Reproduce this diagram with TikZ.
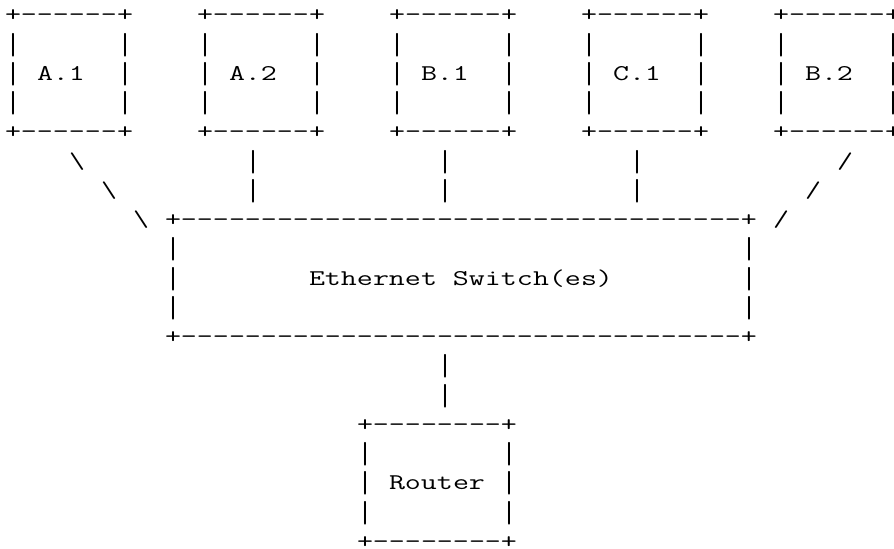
\documentclass[tikz,border=0pt]{standalone}
\usepackage{fontspec}
\setmonofont{Latin Modern Mono}[FakeStretch=1.38]
\usepackage{tikz}
\usetikzlibrary{positioning}
\newlength{\asciiskip}
\setlength{\asciiskip}{29.25pt}
\newlength{\asciicell}
\setlength{\asciicell}{16pt}
% one character per cell, as on a terminal
\def\asciiloop#1{\ifx#1\relax\else\makebox[\asciicell]{#1}\expandafter\asciiloop\fi}
\newcommand{\asciiline}[1]{\hbox{\asciiloop#1\relax}}
\newcommand{\asciibox}[1]{\vtop{\baselineskip=\asciiskip\lineskiplimit=-\maxdimen\lineskip=0pt #1}}
\newcommand{\asciibar}{\raisebox{-3pt}{\scalebox{1}[1.35]{|}}}
\tikzset{%
	every ascii/.style={
		inner sep=0pt,
		outer sep=0pt,
		anchor=base west,
		font={\ttfamily\fontsize{22.5pt}{29.25pt}\selectfont}
	},
}
\begin{document}
\begin{tikzpicture}[x=16pt, y=-29.25pt]
			
			\path [use as bounding box, fill=white] (-0.3125,-0.752) rectangle (55.5625,18.017);
			
			\foreach \m/\l [count=\i from 0] in {a1/A.1, a2/A.2, b1/B.1, c1/C.1, b2/B.2}
			\node [every ascii] (\m) at (\i*12,0) {\asciibox{%
				\asciiline{+------+}
				\asciiline{\asciibar~~~~~~\asciibar}
				\expandafter\asciiline\expandafter{\expandafter\asciibar\expandafter~\l~~\asciibar}
				\asciiline{\asciibar~~~~~~\asciibar}
				\asciiline{+------+}}};
			
			% links down to the switch
			\foreach \c/\r [count=\i] in {4/5, 6/6, 8/7}
			\node [every ascii] (link-a-\i) at (\c,\r) {\asciiline{\textbackslash}};
			
			\foreach \c in {15,27,39}
			\foreach \r in {5,6}
			\node [every ascii] (link-\c-\r) at (\c,\r) {\asciiline{\asciibar}};
			
			\foreach \c/\r [count=\i] in {52/5, 50/6, 48/7}
			\node [every ascii] (link-b-\i) at (\c,\r) {\asciiline{/}};
			
			\node [every ascii] (switch) at (10,7) {\asciibox{%
				\asciiline{+-----------------------------------+}
				\asciiline{\asciibar~~~~~~~~~~~~~~~~~~~~~~~~~~~~~~~~~~~\asciibar}
				\asciiline{\asciibar~~~~~~~~Ethernet~Switch(es)~~~~~~~~\asciibar}
				\asciiline{\asciibar~~~~~~~~~~~~~~~~~~~~~~~~~~~~~~~~~~~\asciibar}
				\asciiline{+-----------------------------------+}}};
			
			\foreach \r in {12,13}
			\node [every ascii] (link-27-\r) at (27,\r) {\asciiline{\asciibar}};
			
			\node [every ascii] (router) at (22,14) {\asciibox{%
				\asciiline{+--------+}
				\asciiline{\asciibar~~~~~~~~\asciibar}
				\asciiline{\asciibar~Router~\asciibar}
				\asciiline{\asciibar~~~~~~~~\asciibar}
				\asciiline{+--------+}}};
			
		\end{tikzpicture}
\end{document}
